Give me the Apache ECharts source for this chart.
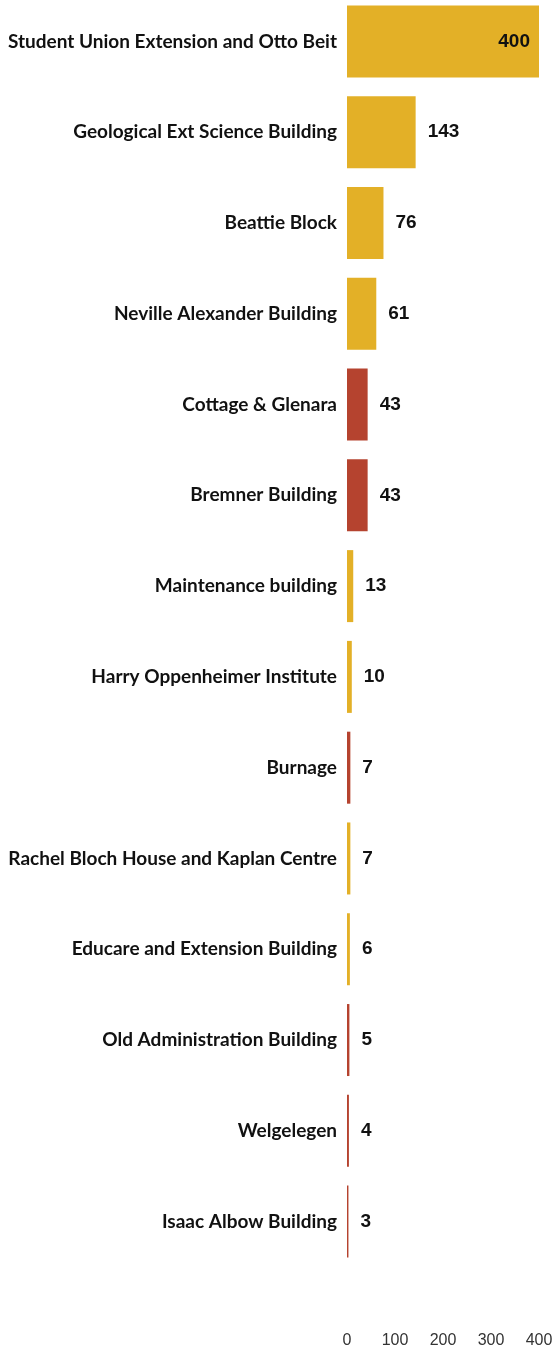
<!DOCTYPE html>
<html>
<head>
<meta charset="utf-8">
<script src="https://cdn.jsdelivr.net/npm/echarts@6/dist/echarts.min.js"></script>
<style>
  html, body { margin: 0; padding: 0; background: #fff; }
  #main { width: 553px; height: 1350px; }
</style>
</head>
<body>
<div id="main"></div>
<script>
var buildings = [
  'Student Union Extension and Otto Beit',
  'Geological Ext Science Building',
  'Beattie Block',
  'Neville Alexander Building',
  'Cottage & Glenara',
  'Bremner Building',
  'Maintenance building',
  'Harry Oppenheimer Institute',
  'Burnage',
  'Rachel Bloch House and Kaplan Centre',
  'Educare and Extension Building',
  'Old Administration Building',
  'Welgelegen',
  'Isaac Albow Building'
]
var counts = [400, 143, 76, 61, 43, 43, 13, 10, 7, 7, 6, 5, 4, 3]
// g = gold group, r = red group
var groups = ['g', 'g', 'g', 'g', 'r', 'r', 'g', 'g', 'r', 'g', 'g', 'r', 'r', 'r']
var xTicks = [0, 100, 200, 300, 400]

var colorOf = { g: '#e3b027', r: '#b5432f' }

var chartDom = document.getElementById('main')
var myChart = echarts.init(chartDom)
var option

option = {
  animation: false,
  grid: {
    left: 347,
    right: 14,
    top: -4,
    height: 1271,
    outerBoundsMode: 'none'
  },
  xAxis: {
    type: 'value',
    min: xTicks[0],
    max: xTicks[xTicks.length - 1],
    interval: 100,
    offset: 58,
    axisLine: { show: false },
    axisTick: { show: false },
    splitLine: { show: false },
    axisLabel: {
      color: '#333',
      fontFamily: 'Liberation Sans',
      fontSize: 16
    }
  },
  yAxis: {
    type: 'category',
    inverse: true,
    data: buildings,
    axisLine: { show: false },
    axisTick: { show: false },
    axisLabel: {
      color: '#111',
      fontFamily: 'Lato',
      fontWeight: 'bold',
      fontSize: 19,
      margin: 10
    }
  },
  series: [
    {
      type: 'bar',
      barCategoryGap: '20.7%',
      data: counts.map(function (v, i) {
        return {
          value: v,
          itemStyle: { color: colorOf[groups[i]] },
          label: i === 0 ? { position: 'insideRight', distance: 9 } : undefined
        }
      }),
      label: {
        show: true,
        position: 'right',
        distance: 12,
        color: '#111',
        fontFamily: 'Liberation Sans',
        fontWeight: 'bold',
        fontSize: 19
      }
    }
  ]
}

option && myChart.setOption(option)
</script>
</body>
</html>
